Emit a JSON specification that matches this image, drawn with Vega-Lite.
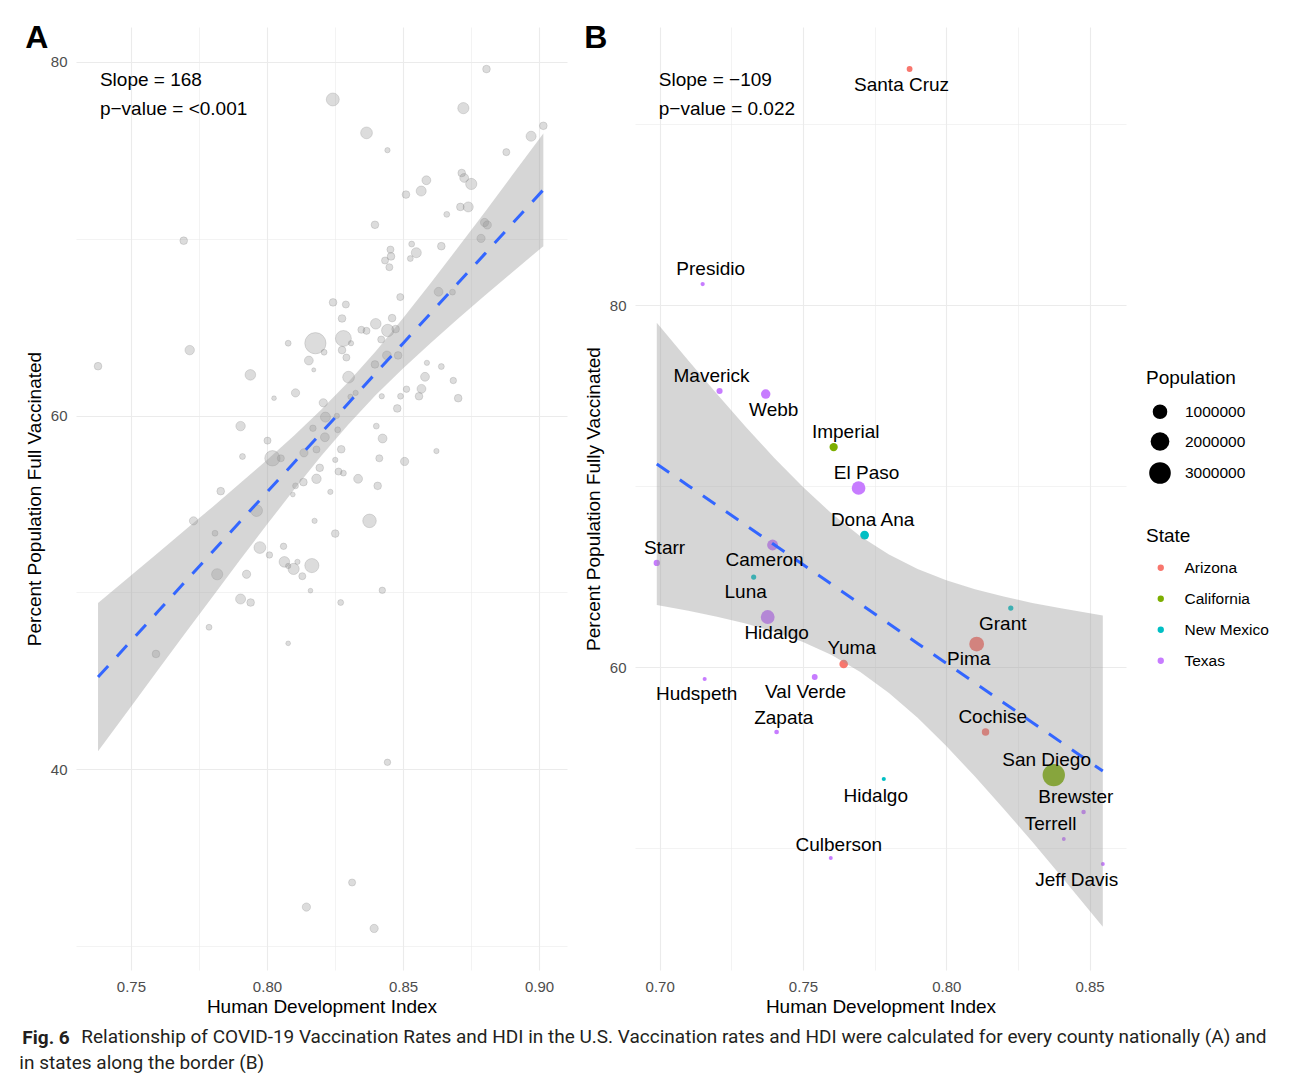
{
  "$schema": "https://vega.github.io/schema/vega-lite/v6.json",
  "padding": {"left": 19, "top": 22, "right": 0, "bottom": 0},
  "autosize": {"type": "pad"},
  "background": "white",
  "title": {
    "text": ["\u200b\u2003\u2003\u2003\u2009Relationship of COVID-19 Vaccination Rates and HDI in the U.S. Vaccination rates and HDI were calculated for every county nationally (A) and", "in states along the border (B)"],
    "orient": "bottom", "anchor": "start", "frame": "bounds",
    "font": "Roboto", "fontSize": 19, "fontWeight": "normal", "color": "#231f20",
    "lineHeight": 26, "offset": 0, "dy": -20, "dx": -3
  },
  "datasets": {
    "a": [
      {"hdi":0.8807,"vax":79.6,"pop":138000},{"hdi":0.8242,"vax":77.88,"pop":718000},{"hdi":0.8722,"vax":77.39,"pop":466000},
      {"hdi":0.9016,"vax":76.39,"pop":138000},{"hdi":0.8971,"vax":75.80,"pop":333000},{"hdi":0.8366,"vax":75.99,"pop":542000},
      {"hdi":0.8443,"vax":75.01,"pop":30000},{"hdi":0.888,"vax":74.90,"pop":104000},{"hdi":0.8716,"vax":73.72,"pop":138000},
      {"hdi":0.8725,"vax":73.44,"pop":224000},{"hdi":0.8751,"vax":73.10,"pop":466000},{"hdi":0.8586,"vax":73.31,"pop":224000},
      {"hdi":0.8567,"vax":72.70,"pop":333000},{"hdi":0.8511,"vax":72.50,"pop":138000},{"hdi":0.8661,"vax":71.38,"pop":50000},
      {"hdi":0.8711,"vax":71.80,"pop":138000},{"hdi":0.874,"vax":71.80,"pop":333000},{"hdi":0.8397,"vax":70.79,"pop":138000},
      {"hdi":0.8800,"vax":70.92,"pop":178000},{"hdi":0.8810,"vax":70.78,"pop":178000},{"hdi":0.8787,"vax":70.02,"pop":178000},
      {"hdi":0.7694,"vax":69.89,"pop":138000},{"hdi":0.8532,"vax":69.70,"pop":50000},{"hdi":0.8549,"vax":69.21,"pop":333000},
      {"hdi":0.8641,"vax":69.58,"pop":138000},{"hdi":0.8454,"vax":69.39,"pop":104000},{"hdi":0.8456,"vax":69.0,"pop":138000},
      {"hdi":0.8434,"vax":68.77,"pop":104000},{"hdi":0.8527,"vax":68.88,"pop":50000},{"hdi":0.845,"vax":68.39,"pop":104000},
      {"hdi":0.849,"vax":66.70,"pop":104000},{"hdi":0.8631,"vax":67.0,"pop":224000},{"hdi":0.8682,"vax":66.98,"pop":50000},
      {"hdi":0.8243,"vax":66.40,"pop":138000},{"hdi":0.829,"vax":66.28,"pop":104000},{"hdi":0.8276,"vax":65.49,"pop":138000},
      {"hdi":0.846,"vax":65.51,"pop":138000},{"hdi":0.84,"vax":65.19,"pop":397000},{"hdi":0.8347,"vax":64.85,"pop":104000},
      {"hdi":0.8366,"vax":64.79,"pop":104000},{"hdi":0.8444,"vax":64.81,"pop":626000},{"hdi":0.8473,"vax":64.89,"pop":138000},
      {"hdi":0.8178,"vax":64.09,"pop":2870000},{"hdi":0.8281,"vax":64.36,"pop":1290000},{"hdi":0.8078,"vax":64.09,"pop":50000},
      {"hdi":0.8309,"vax":64.09,"pop":30000},{"hdi":0.842,"vax":64.30,"pop":104000},{"hdi":0.7716,"vax":63.70,"pop":276000},
      {"hdi":0.821,"vax":63.58,"pop":50000},{"hdi":0.8276,"vax":63.70,"pop":138000},{"hdi":0.8441,"vax":63.40,"pop":224000},
      {"hdi":0.8482,"vax":63.40,"pop":138000},{"hdi":0.8292,"vax":63.28,"pop":104000},{"hdi":0.7379,"vax":62.79,"pop":138000},
      {"hdi":0.8154,"vax":63.11,"pop":224000},{"hdi":0.8172,"vax":62.58,"pop":4000},{"hdi":0.8397,"vax":62.89,"pop":138000},
      {"hdi":0.8588,"vax":62.98,"pop":30000},{"hdi":0.8641,"vax":62.77,"pop":50000},{"hdi":0.7939,"vax":62.30,"pop":397000},
      {"hdi":0.83,"vax":62.17,"pop":542000},{"hdi":0.8581,"vax":62.19,"pop":224000},{"hdi":0.8685,"vax":61.98,"pop":74000},
      {"hdi":0.8513,"vax":61.49,"pop":74000},{"hdi":0.8568,"vax":61.51,"pop":224000},{"hdi":0.8105,"vax":61.28,"pop":178000},
      {"hdi":0.8026,"vax":60.98,"pop":15000},{"hdi":0.8326,"vax":61.28,"pop":30000},{"hdi":0.8307,"vax":61.06,"pop":30000},
      {"hdi":0.8422,"vax":61.09,"pop":30000},{"hdi":0.8491,"vax":61.09,"pop":50000},{"hdi":0.8559,"vax":61.09,"pop":138000},
      {"hdi":0.8703,"vax":60.98,"pop":138000},{"hdi":0.8207,"vax":60.72,"pop":178000},{"hdi":0.8479,"vax":60.40,"pop":138000},
      {"hdi":0.8215,"vax":59.91,"pop":333000},{"hdi":0.8257,"vax":59.98,"pop":30000},{"hdi":0.7903,"vax":59.40,"pop":276000},
      {"hdi":0.8169,"vax":59.28,"pop":74000},{"hdi":0.826,"vax":59.19,"pop":50000},{"hdi":0.8402,"vax":59.40,"pop":50000},
      {"hdi":0.8213,"vax":58.77,"pop":224000},{"hdi":0.8425,"vax":58.70,"pop":224000},{"hdi":0.8002,"vax":58.58,"pop":104000},
      {"hdi":0.8182,"vax":58.08,"pop":104000},{"hdi":0.8273,"vax":58.09,"pop":138000},{"hdi":0.8136,"vax":57.89,"pop":178000},
      {"hdi":0.8623,"vax":57.99,"pop":30000},{"hdi":0.791,"vax":57.68,"pop":50000},{"hdi":0.802,"vax":57.58,"pop":1160000},
      {"hdi":0.8051,"vax":57.58,"pop":104000},{"hdi":0.8251,"vax":57.49,"pop":30000},{"hdi":0.8413,"vax":57.58,"pop":104000},
      {"hdi":0.8506,"vax":57.40,"pop":178000},{"hdi":0.8194,"vax":57.04,"pop":138000},{"hdi":0.8263,"vax":56.83,"pop":104000},
      {"hdi":0.8281,"vax":56.74,"pop":50000},{"hdi":0.8182,"vax":56.42,"pop":276000},{"hdi":0.8134,"vax":56.23,"pop":138000},
      {"hdi":0.8335,"vax":56.42,"pop":224000},{"hdi":0.8105,"vax":56.02,"pop":50000},{"hdi":0.8407,"vax":56.02,"pop":138000},
      {"hdi":0.783,"vax":55.72,"pop":138000},{"hdi":0.8095,"vax":55.53,"pop":15000},{"hdi":0.8233,"vax":55.68,"pop":30000},
      {"hdi":0.7962,"vax":54.62,"pop":542000},{"hdi":0.8377,"vax":54.04,"pop":818000},{"hdi":0.8175,"vax":54.04,"pop":30000},
      {"hdi":0.773,"vax":54.04,"pop":178000},{"hdi":0.7809,"vax":53.34,"pop":50000},{"hdi":0.8251,"vax":53.32,"pop":138000},
      {"hdi":0.7974,"vax":52.53,"pop":542000},{"hdi":0.8061,"vax":52.60,"pop":74000},{"hdi":0.8009,"vax":52.11,"pop":74000},
      {"hdi":0.8064,"vax":51.72,"pop":397000},{"hdi":0.8112,"vax":51.72,"pop":30000},{"hdi":0.8078,"vax":51.49,"pop":30000},
      {"hdi":0.8098,"vax":51.32,"pop":466000},{"hdi":0.8165,"vax":51.51,"pop":925000},{"hdi":0.813,"vax":50.91,"pop":104000},
      {"hdi":0.7817,"vax":51.02,"pop":466000},{"hdi":0.7925,"vax":51.02,"pop":178000},{"hdi":0.816,"vax":50.09,"pop":15000},
      {"hdi":0.8424,"vax":50.11,"pop":74000},{"hdi":0.7903,"vax":49.62,"pop":333000},{"hdi":0.794,"vax":49.42,"pop":138000},
      {"hdi":0.8271,"vax":49.42,"pop":50000},{"hdi":0.7787,"vax":48.02,"pop":50000},{"hdi":0.8078,"vax":47.11,"pop":15000},
      {"hdi":0.7592,"vax":46.51,"pop":138000},{"hdi":0.8443,"vax":40.38,"pop":74000},{"hdi":0.8313,"vax":33.58,"pop":104000},
      {"hdi":0.8145,"vax":32.19,"pop":178000},{"hdi":0.8394,"vax":30.98,"pop":178000}
    ],
    "bandA": [
      {"x":0.7379,"lo":41.01,"hi":49.39,"fit":45.20},{"x":0.75,"lo":43.53,"hi":50.95,"fit":47.24},
      {"x":0.76,"lo":45.61,"hi":52.23,"fit":48.92},{"x":0.77,"lo":47.69,"hi":53.53,"fit":50.61},
      {"x":0.78,"lo":49.75,"hi":54.83,"fit":52.29},{"x":0.79,"lo":51.81,"hi":56.15,"fit":53.98},
      {"x":0.80,"lo":53.83,"hi":57.49,"fit":55.66},{"x":0.81,"lo":55.81,"hi":58.87,"fit":57.34},
      {"x":0.82,"lo":57.72,"hi":60.34,"fit":59.03},{"x":0.83,"lo":59.51,"hi":61.91,"fit":60.71},
      {"x":0.84,"lo":61.16,"hi":63.64,"fit":62.40},{"x":0.85,"lo":62.66,"hi":65.50,"fit":64.08},
      {"x":0.86,"lo":64.08,"hi":67.45,"fit":65.76},{"x":0.87,"lo":65.44,"hi":69.46,"fit":67.45},
      {"x":0.88,"lo":66.77,"hi":71.49,"fit":69.13},{"x":0.89,"lo":68.08,"hi":73.56,"fit":70.82},
      {"x":0.9016,"lo":69.58,"hi":75.96,"fit":72.77}
    ],
    "annA": [
      {"x":0.7386,"y":78.98,"t":"Slope = 168"},
      {"x":0.7386,"y":77.34,"t":"p\u2212value = <0.001"}
    ],
    "b": [
      {"county":"Santa Cruz","state":"Arizona","hdi":0.7872,"vax":93.04,"pop":47700,"lx":0.7844,"ly":92.15},
      {"county":"Presidio","state":"Texas","hdi":0.7150,"vax":81.16,"pop":6100,"lx":0.7178,"ly":81.99},
      {"county":"Maverick","state":"Texas","hdi":0.7209,"vax":75.25,"pop":58000,"lx":0.7181,"ly":76.08},
      {"county":"Webb","state":"Texas","hdi":0.7370,"vax":75.08,"pop":276000,"lx":0.7398,"ly":74.20},
      {"county":"Imperial","state":"California","hdi":0.7607,"vax":72.15,"pop":180000,"lx":0.7649,"ly":72.98},
      {"county":"El Paso","state":"Texas","hdi":0.7694,"vax":69.89,"pop":840000,"lx":0.7722,"ly":70.72},
      {"county":"Dona Ana","state":"New Mexico","hdi":0.7715,"vax":67.29,"pop":219000,"lx":0.7743,"ly":68.12},
      {"county":"Cameron","state":"Texas","hdi":0.7394,"vax":66.74,"pop":423000,"lx":0.7366,"ly":65.91},
      {"county":"Starr","state":"Texas","hdi":0.6990,"vax":65.75,"pop":65000,"lx":0.7017,"ly":66.57},
      {"county":"Luna","state":"New Mexico","hdi":0.7328,"vax":64.97,"pop":25000,"lx":0.7300,"ly":64.14},
      {"county":"Hidalgo","state":"Texas","hdi":0.7377,"vax":62.76,"pop":870000,"lx":0.7408,"ly":61.88},
      {"county":"Grant","state":"New Mexico","hdi":0.8225,"vax":63.26,"pop":28000,"lx":0.8197,"ly":62.38},
      {"county":"Pima","state":"Arizona","hdi":0.8106,"vax":61.27,"pop":1040000,"lx":0.8078,"ly":60.44},
      {"county":"Yuma","state":"Arizona","hdi":0.7642,"vax":60.17,"pop":203000,"lx":0.7670,"ly":61.05},
      {"county":"Hudspeth","state":"Texas","hdi":0.7157,"vax":59.34,"pop":3400,"lx":0.7129,"ly":58.51},
      {"county":"Val Verde","state":"Texas","hdi":0.7541,"vax":59.45,"pop":48000,"lx":0.7509,"ly":58.62},
      {"county":"Zapata","state":"Texas","hdi":0.7408,"vax":56.41,"pop":14000,"lx":0.7433,"ly":57.18},
      {"county":"Cochise","state":"Arizona","hdi":0.8137,"vax":56.41,"pop":125000,"lx":0.8162,"ly":57.24},
      {"county":"San Diego","state":"California","hdi":0.8375,"vax":54.03,"pop":3300000,"lx":0.8350,"ly":54.86},
      {"county":"Hidalgo","state":"New Mexico","hdi":0.7782,"vax":53.81,"pop":4200,"lx":0.7754,"ly":52.87},
      {"county":"Brewster","state":"Texas","hdi":0.8479,"vax":51.99,"pop":9500,"lx":0.8452,"ly":52.82},
      {"county":"Terrell","state":"Texas","hdi":0.8410,"vax":50.50,"pop":800,"lx":0.8364,"ly":51.33},
      {"county":"Culberson","state":"Texas","hdi":0.7597,"vax":49.45,"pop":2200,"lx":0.7625,"ly":50.17},
      {"county":"Jeff Davis","state":"Texas","hdi":0.8546,"vax":49.12,"pop":2200,"lx":0.8455,"ly":48.23}
    ],
    "bandB": [
      {"x":0.699,"lo":63.42,"hi":79.02,"fit":71.22},{"x":0.71,"lo":63.11,"hi":76.93,"fit":70.02},
      {"x":0.72,"lo":62.78,"hi":75.08,"fit":68.93},{"x":0.73,"lo":62.40,"hi":73.28,"fit":67.84},
      {"x":0.74,"lo":61.95,"hi":71.55,"fit":66.75},{"x":0.75,"lo":61.38,"hi":69.94,"fit":65.66},
      {"x":0.76,"lo":60.66,"hi":68.48,"fit":64.57},{"x":0.77,"lo":59.73,"hi":67.23,"fit":63.48},
      {"x":0.78,"lo":58.57,"hi":66.21,"fit":62.39},{"x":0.79,"lo":57.19,"hi":65.41,"fit":61.30},
      {"x":0.80,"lo":55.63,"hi":64.79,"fit":60.21},{"x":0.81,"lo":53.95,"hi":64.29,"fit":59.12},
      {"x":0.82,"lo":52.17,"hi":63.89,"fit":58.03},{"x":0.83,"lo":50.34,"hi":63.54,"fit":56.94},
      {"x":0.84,"lo":48.46,"hi":63.24,"fit":55.85},{"x":0.8546,"lo":45.65,"hi":62.85,"fit":54.25}
    ],
    "annB": [
      {"x":0.6997,"y":92.43,"t":"Slope = \u2212109"},
      {"x":0.6997,"y":90.83,"t":"p\u2212value = 0.022"}
    ]
  },
  "vconcat": [
    {
      "title": {"text": "Fig. 6", "orient": "bottom", "anchor": "start", "frame": "bounds", "font": "Roboto", "fontSize": 19, "fontWeight": "bold", "color": "#231f20", "offset": 13, "dx": -3},
      "spacing": 17,
      "resolve": {"scale": {"x": "independent", "y": "independent", "size": "independent", "color": "independent"}, "legend": {"size": "independent", "color": "independent"}},
      "hconcat": [
        {
          "width": 491, "height": 943,
          "title": {"text": "A", "anchor": "start", "frame": "bounds", "font": "Liberation Sans", "fontSize": 32, "fontWeight": "bold", "color": "#000", "baseline": "alphabetic", "offset": 0, "dy": 53},
          "layer": [
            {
              "data": {"name": "a"},
              "mark": {"type": "circle", "color": "#7f7f7f", "fillOpacity": 0.27, "stroke": "#7f7f7f", "strokeOpacity": 0.3, "strokeWidth": 0.8},
              "encoding": {
                "x": {"field": "hdi", "type": "quantitative", "scale": {"domain": [0.7298, 0.9103], "nice": false, "zero": false},
                      "axis": {"title": "Human Development Index", "values": [0.75, 0.775, 0.8, 0.825, 0.85, 0.875, 0.9], "labelFlush": false,
                               "labelExpr": "abs(datum.value*20 - round(datum.value*20)) < 0.001 ? format(datum.value, '.2f') : ''",
                               "gridWidth": {"condition": {"test": "abs(datum.value*20 - round(datum.value*20)) < 0.001", "value": 1.1}, "value": 0.6}}},
                "y": {"field": "vax", "type": "quantitative", "scale": {"domain": [28.63, 81.98], "nice": false, "zero": false},
                      "axis": {"title": "Percent Population Full Vaccinated", "values": [30, 40, 50, 60, 70, 80],
                               "labelExpr": "datum.value % 20 == 0 ? datum.label : ''",
                               "gridWidth": {"condition": {"test": "datum.value % 20 == 0", "value": 1.1}, "value": 0.6}}},
                "size": {"field": "pop", "type": "quantitative", "scale": {"type": "pow", "exponent": 0.75, "domain": [0, 3300000], "range": [14, 500]}, "legend": null}
              }
            },
            {
              "data": {"name": "bandA"},
              "mark": {"type": "area", "color": "#999999", "opacity": 0.4},
              "encoding": {
                "x": {"field": "x", "type": "quantitative"},
                "y": {"field": "hi", "type": "quantitative"},
                "y2": {"field": "lo"}
              }
            },
            {
              "data": {"name": "bandA"},
              "mark": {"type": "line", "color": "#3366FF", "strokeWidth": 3, "strokeDash": [15, 13]},
              "encoding": {
                "x": {"field": "x", "type": "quantitative"},
                "y": {"field": "fit", "type": "quantitative"}
              }
            },
            {
              "data": {"name": "annA"},
              "mark": {"type": "text", "align": "left", "baseline": "middle", "font": "Liberation Sans", "fontSize": 19, "color": "#000"},
              "encoding": {
                "x": {"field": "x", "type": "quantitative"},
                "y": {"field": "y", "type": "quantitative"},
                "text": {"field": "t"}
              }
            }
          ]
        },
        {
          "width": 491, "height": 943,
          "title": {"text": "B", "anchor": "start", "frame": "bounds", "font": "Liberation Sans", "fontSize": 32, "fontWeight": "bold", "color": "#000", "baseline": "alphabetic", "offset": 0, "dy": 53},
          "layer": [
            {
              "data": {"name": "b"},
              "mark": {"type": "circle", "opacity": 1},
              "encoding": {
                "x": {"field": "hdi", "type": "quantitative", "scale": {"domain": [0.6914, 0.8627], "nice": false, "zero": false},
                      "axis": {"title": "Human Development Index", "values": [0.7, 0.725, 0.75, 0.775, 0.8, 0.825, 0.85], "labelFlush": false,
                               "labelExpr": "abs(datum.value*20 - round(datum.value*20)) < 0.001 ? format(datum.value, '.2f') : ''",
                               "gridWidth": {"condition": {"test": "abs(datum.value*20 - round(datum.value*20)) < 0.001", "value": 1.1}, "value": 0.6}}},
                "y": {"field": "vax", "type": "quantitative", "scale": {"domain": [43.26, 95.36], "nice": false, "zero": false},
                      "axis": {"title": "Percent Population Fully Vaccinated", "values": [50, 60, 70, 80, 90],
                               "labelExpr": "datum.value % 20 == 0 ? datum.label : ''",
                               "gridWidth": {"condition": {"test": "datum.value % 20 == 0", "value": 1.1}, "value": 0.6}}},
                "size": {"field": "pop", "type": "quantitative", "scale": {"type": "pow", "exponent": 0.75, "domain": [0, 3300000], "range": [14, 500]},
                         "legend": {"title": "Population", "values": [1000000, 2000000, 3000000], "format": "d", "orient": "none", "legendX": 511, "legendY": 342,
                                    "symbolFillColor": "#000000", "symbolStrokeColor": "#000000", "symbolStrokeWidth": 0, "symbolOpacity": 1,
                                    "symbolOffset": 3, "labelOffset": 14, "rowPadding": 11, "titlePadding": 16}},
                "color": {"field": "state", "type": "nominal",
                          "scale": {"domain": ["Arizona", "California", "New Mexico", "Texas"], "range": ["#F8766D", "#7CAE00", "#00BFC4", "#C77CFF"]},
                          "legend": {"title": "State", "orient": "none", "legendX": 511, "legendY": 500, "symbolType": "circle", "symbolSize": 40,
                                     "symbolOffset": 7, "labelOffset": 16, "rowPadding": 14, "titlePadding": 14}}
              }
            },
            {
              "data": {"name": "bandB"},
              "mark": {"type": "area", "color": "#999999", "opacity": 0.4},
              "encoding": {
                "x": {"field": "x", "type": "quantitative"},
                "y": {"field": "hi", "type": "quantitative"},
                "y2": {"field": "lo"}
              }
            },
            {
              "data": {"name": "bandB"},
              "mark": {"type": "line", "color": "#3366FF", "strokeWidth": 3, "strokeDash": [15, 13]},
              "encoding": {
                "x": {"field": "x", "type": "quantitative"},
                "y": {"field": "fit", "type": "quantitative"}
              }
            },
            {
              "data": {"name": "b"},
              "mark": {"type": "text", "align": "center", "baseline": "middle", "font": "Liberation Sans", "fontSize": 19, "color": "#000"},
              "encoding": {
                "x": {"field": "lx", "type": "quantitative"},
                "y": {"field": "ly", "type": "quantitative"},
                "text": {"field": "county"}
              }
            },
            {
              "data": {"name": "annB"},
              "mark": {"type": "text", "align": "left", "baseline": "middle", "font": "Liberation Sans", "fontSize": 19, "color": "#000"},
              "encoding": {
                "x": {"field": "x", "type": "quantitative"},
                "y": {"field": "y", "type": "quantitative"},
                "text": {"field": "t"}
              }
            }
          ]
        }
      ]
    }
  ],
  "config": {
    "view": {"stroke": null},
    "font": "Liberation Sans",
    "axis": {"domain": false, "ticks": false, "tickSize": 0, "labelFont": "Liberation Sans", "labelFontSize": 15, "labelColor": "#4d4d4d", "labelPadding": 9,
             "titleFont": "Liberation Sans", "titleFontSize": 19, "titleFontWeight": "normal", "titleColor": "#000000", "gridColor": "#ebebeb", "titlePadding": 6},
    "axisX": {"titlePadding": 3},
    "legend": {"titleFont": "Liberation Sans", "titleFontSize": 19, "titleFontWeight": "normal", "titleColor": "#000000",
               "labelFont": "Liberation Sans", "labelFontSize": 15.5, "labelColor": "#000000"}
  }
}
